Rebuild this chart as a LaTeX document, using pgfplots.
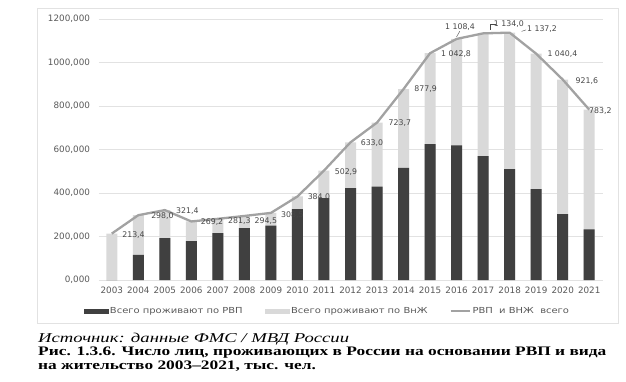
\documentclass[border=0pt]{standalone}
\usepackage{fontspec}
\setmainfont{DejaVu Sans}
\newfontfamily\capfont{Liberation Serif}
\newfontfamily\legfont[FakeStretch=1.2]{DejaVu Sans}
\usepackage{graphicx}
\usepackage{pgfplots}
\pgfplotsset{compat=1.18}
\usepackage{pgfplotstable}
\definecolor{darkbar}{HTML}{404040}
\definecolor{lightbar}{HTML}{D9D9D9}
\definecolor{linegray}{HTML}{A2A2A2}
\definecolor{txtgray}{HTML}{595959}
\definecolor{gridgray}{HTML}{E2E2E2}
\definecolor{lblgray}{HTML}{474747}
\tikzset{lbl/.style={font=\fontsize{7.8}{9}\selectfont, text=lblgray, inner sep=0pt}}

\pgfplotstableread{
x year rvp total
0 2003 0 213.4
1 2004 115 298.0
2 2005 192 321.4
3 2006 179 269.2
4 2007 215 281.3
5 2008 238 294.5
6 2009 250 308.5
7 2010 326 384.0
8 2011 376 502.9
9 2012 422 633.0
10 2013 429 723.7
11 2014 515 877.9
12 2015 625 1042.8
13 2016 619 1108.4
14 2017 570 1134.0
15 2018 510 1137.2
16 2019 418 1040.4
17 2020 303 921.6
18 2021 233 783.2
}\data

\begin{document}
\begin{tikzpicture}
\useasboundingbox (0pt,0pt) rectangle (626pt,381pt);
\draw[gridgray, line width=0.8pt] (37pt,373pt) rectangle (618pt,58pt);
\begin{axis}[
  at={(98.5pt,101pt)}, anchor=south west,
  scale only axis, width=504pt, height=261pt,
  xmin=-0.5, xmax=18.5, ymin=0, ymax=1200,
  clip=false,
  axis line style={draw=none},
  major tick length=0pt,
  ytick={0,200,...,1200},
  ymajorgrids, grid style={gridgray, line width=0.8pt},
  xtick={0,1,...,18},
  xticklabels={2003,2004,2005,2006,2007,2008,2009,2010,2011,2012,2013,2014,2015,2016,2017,2018,2019,2020,2021},
  ticklabel style={font=\fontsize{8.8}{10}\selectfont, text=txtgray},
  xticklabel style={yshift=-3pt},
  yticklabel style={xshift=-5pt, /pgf/number format/.cd, fixed, fixed zerofill, precision=3, use comma, 1000 sep={}, assume math mode=true},
  legend style={draw=none, fill=none, at={(0.454,-0.119)}, anchor=center,
    font=\legfont\fontsize{8.3}{9}\selectfont, text=txtgray,
    /tikz/every even column/.append style={column sep=20pt}},
  legend columns=3,
]
\addlegendimage{legend image code/.code={\fill[darkbar] (0pt,-2.2pt) rectangle (24pt,2.2pt);}}
\addlegendentry{Всего проживают по РВП}
\addlegendimage{legend image code/.code={\fill[lightbar] (0pt,-2.2pt) rectangle (24pt,2.2pt);}}
\addlegendentry{Всего проживают по ВнЖ}
\addlegendimage{legend image code/.code={\draw[linegray, line width=2pt] (0pt,0pt) -- (19pt,0pt);}}
\addlegendentry{РВП~ и ВНЖ~ всего}

\addplot[ybar, bar width=11pt, bar shift=0pt, fill=lightbar, draw=none, forget plot] table[x=x, y=total] {\data};
\addplot[ybar, bar width=11pt, bar shift=0pt, fill=darkbar, draw=none, forget plot] table[x=x, y=rvp] {\data};
\addplot[linegray, line width=2.3pt, line join=round, mark=none, forget plot] table[x=x, y=total] {\data};

\node[lbl] at (axis cs:0.82,207) {213,4};
\node[lbl] at (axis cs:1.91,294) {298,0};
\node[lbl] at (axis cs:2.85,317) {321,4};
\node[lbl] at (axis cs:3.78,267) {269,2};
\node[lbl] at (axis cs:4.81,271) {281,3};
\node[lbl] at (axis cs:5.81,271) {294,5};
\node[lbl] at (axis cs:6.81,299) {308,5};
\node[lbl] at (axis cs:7.81,382) {384,0};
\node[lbl] at (axis cs:8.83,497) {502,9};
\node[lbl] at (axis cs:9.81,630) {633,0};
\node[lbl] at (axis cs:10.86,722) {723,7};
\node[lbl] at (axis cs:11.83,878) {877,9};
\node[lbl] at (axis cs:12.98,1039) {1 042,8};
\node[lbl] at (axis cs:13.13,1163) {1 108,4};
\node[lbl] at (axis cs:14.97,1177) {1 134,0};
\node[lbl] at (axis cs:16.22,1154) {1 137,2};
\node[lbl] at (axis cs:16.99,1039) {1 040,4};
\node[lbl] at (axis cs:17.91,915) {921,6};
\node[lbl] at (axis cs:18.42,777) {783,2};
\draw[lblgray, line width=0.4pt] (axis cs:13.12,1144) -- (axis cs:13.0,1118);
\draw[lblgray, line width=0.4pt] (axis cs:14.49,1177) -- (axis cs:14.27,1177) -- (axis cs:14.27,1150);
\draw[lblgray, line width=0.4pt] (axis cs:15.62,1150) -- (axis cs:15.45,1143);
\end{axis}
\node[anchor=west, inner sep=0pt, font=\capfont\itshape\fontsize{13.5}{14}\selectfont] at (38pt,42pt) {\scalebox{1.383}[1]{Источник: данные ФМС / МВД России}};
\node[anchor=west, inner sep=0pt, font=\capfont\bfseries\fontsize{13}{14}\selectfont] at (38pt,28pt) {\scalebox{1.336}[1]{Рис. 1.3.6. Число лиц, проживающих в России на основании РВП и вида}};
\node[anchor=west, inner sep=0pt, font=\capfont\bfseries\fontsize{13}{14}\selectfont] at (38pt,15pt) {\scalebox{1.336}[1]{на жительство 2003–2021, тыс. чел.}};
\end{tikzpicture}
\end{document}
